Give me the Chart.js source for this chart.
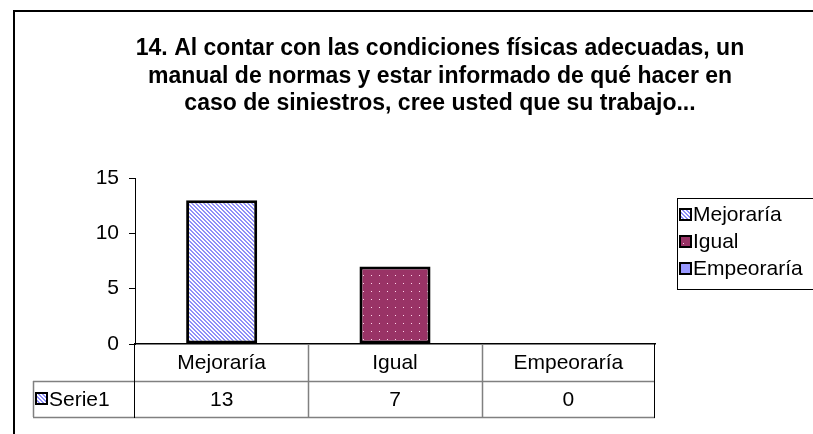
<!DOCTYPE html>
<html>
<head>
<meta charset="utf-8">
<script src="https://cdn.jsdelivr.net/npm/chart.js@4.4.0/dist/chart.umd.min.js"></script>
<style>
  html, body { margin: 0; padding: 0; background: #fff; }
  #wrap { width: 813px; height: 434px; }
</style>
</head>
<body>
<div id="wrap"><canvas id="chart" width="813" height="434"></canvas></div>
<script>
const titleLines = [
  "14. Al contar con las condiciones físicas adecuadas, un",
  "manual de normas y estar informado de qué hacer en",
  "caso de siniestros, cree usted que su trabajo...",
];
const categories = ["Mejoraría", "Igual", "Empeoraría"];
const seriesName = "Serie1";
const values = [13, 7, 0];
const yMax = 15;
const yStep = 5;

const FONT = '"Liberation Sans", Arial, sans-serif';

// rellenos con trama
function stripePattern() {
  const c = document.createElement("canvas");
  c.width = 4; c.height = 4;
  const g = c.getContext("2d");
  g.fillStyle = "#ffffff";
  g.fillRect(0, 0, 4, 4);
  g.fillStyle = "#8f8ff8";
  for (let i = 0; i < 4; i++) {
    g.fillRect(i, i, 1, 1);
    g.fillRect((i + 1) % 4, i, 1, 1);
  }
  return g.createPattern(c, "repeat");
}

function dotPattern() {
  const c = document.createElement("canvas");
  c.width = 8; c.height = 8;
  const g = c.getContext("2d");
  g.fillStyle = "#993366";
  g.fillRect(0, 0, 8, 8);
  g.fillStyle = "#ffd6ea";
  g.fillRect(3, 3, 1, 1);
  return g.createPattern(c, "repeat");
}

const fills = [stripePattern(), dotPattern(), "#9999ff"];

// marco, título, tabla de datos y leyenda
const decorations = {
  id: "decorations",
  afterDraw(chart) {
    const { ctx, chartArea } = chart;
    const x = chart.scales.x;
    ctx.save();

    // marco exterior
    ctx.strokeStyle = "#000";
    ctx.lineWidth = 2;
    ctx.strokeRect(14, 11, 900, 500);

    // título
    ctx.fillStyle = "#000";
    ctx.font = `bold 23px ${FONT}`;
    ctx.textAlign = "center";
    ctx.textBaseline = "middle";
    titleLines.forEach((line, i) => ctx.fillText(line, 440, 49 + i * 27.5));

    // tabla de datos
    const left = chartArea.left, right = chartArea.right;
    const colW = (right - left) / categories.length;
    const row1 = chartArea.bottom, row2 = 381, row3 = 417, tableLeft = 33;

    ctx.strokeStyle = "#808080";
    ctx.lineWidth = 1.5;
    ctx.beginPath();
    ctx.moveTo(tableLeft, row2 + 0.5); ctx.lineTo(right, row2 + 0.5);
    ctx.moveTo(tableLeft, row3 + 0.5); ctx.lineTo(right, row3 + 0.5);
    ctx.moveTo(tableLeft + 0.5, row2); ctx.lineTo(tableLeft + 0.5, row3);
    for (let i = 1; i < categories.length; i++) {
      const cx = Math.round(left + i * colW) + 0.5;
      ctx.moveTo(cx, row1); ctx.lineTo(cx, row3);
    }
    ctx.stroke();

    ctx.strokeStyle = "#000";
    ctx.lineWidth = 1;
    ctx.beginPath();
    ctx.moveTo(left - 0.5, row1); ctx.lineTo(left - 0.5, row3 + 1);
    ctx.moveTo(right - 0.5, row1); ctx.lineTo(right - 0.5, row3 + 1);
    ctx.stroke();

    ctx.font = `21px ${FONT}`;
    categories.forEach((cat, i) => {
      const cx = x.getPixelForValue(i);
      ctx.fillText(cat, cx, (row1 + row2) / 2 + 1);
      ctx.fillText(String(values[i]), cx, (row2 + row3) / 2 + 1);
    });

    // clave de la serie
    ctx.fillStyle = fills[0];
    ctx.fillRect(36, 393, 11, 11);
    ctx.strokeStyle = "#000";
    ctx.lineWidth = 2;
    ctx.strokeRect(36, 393, 11, 11);
    ctx.fillStyle = "#000";
    ctx.textAlign = "left";
    ctx.fillText(seriesName, 49, (row2 + row3) / 2 + 1);

    // leyenda
    ctx.strokeStyle = "#000";
    ctx.lineWidth = 1;
    ctx.strokeRect(677.5, 198.5, 200, 91);
    categories.forEach((cat, i) => {
      const cy = 214 + i * 27;
      ctx.fillStyle = fills[i];
      ctx.fillRect(680, cy - 5, 11, 11);
      ctx.lineWidth = 2;
      ctx.strokeRect(680, cy - 5, 11, 11);
      ctx.fillStyle = "#000";
      ctx.fillText(cat, 693, cy + 1);
    });

    ctx.restore();
  },
};

new Chart(document.getElementById("chart"), {
  type: "bar",
  data: {
    labels: categories,
    datasets: [
      {
        label: seriesName,
        data: values,
        backgroundColor: fills,
        borderColor: "#000",
        borderWidth: 3,
        borderSkipped: false,
        categoryPercentage: 1,
        barPercentage: 0.41,
      },
    ],
  },
  options: {
    responsive: false,
    animation: false,
    layout: { padding: { left: 90, right: 158, top: 178, bottom: 90 } },
    plugins: {
      legend: { display: false },
      title: { display: false },
      tooltip: { enabled: false },
    },
    scales: {
      x: {
        ticks: { display: false },
        grid: { display: false },
        border: { display: true, color: "#000", width: 1.5 },
        afterFit(scale) { scale.height = 0; },
      },
      y: {
        min: 0,
        max: yMax,
        ticks: { stepSize: yStep, color: "#000", padding: 10, font: { family: FONT, size: 21 } },
        grid: { drawOnChartArea: false, drawTicks: true, tickLength: 6, color: "#000" },
        border: { display: true, color: "#000", width: 1 },
        afterFit(scale) { scale.width = 45; },
      },
    },
  },
  plugins: [decorations],
});
</script>
</body>
</html>
